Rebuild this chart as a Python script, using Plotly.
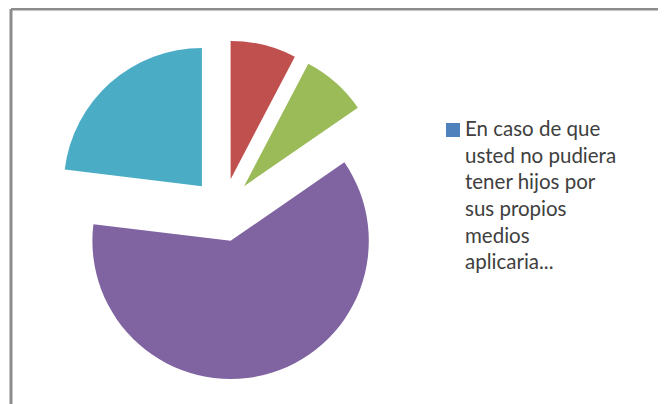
import plotly.graph_objects as go

# Slice data (Excel-style order, starting at 12 o'clock, clockwise)
labels = ["Opción 1", "Opción 2", "Opción 3", "Opción 4", "Opción 5"]
values = [0, 1, 1, 8, 3]
colors = ["#4F81BD", "#C0504D", "#9BBB59", "#8064A2", "#4BACC6"]

legend_name = "En caso de que<br>usted no pudiera<br>tener hijos por<br>sus propios<br>medios<br>aplicaria..."

# page body adds an 8px margin, so the figure is drawn 8px in from the window
OFF = 8
W, H = 666 - OFF, 404 - OFF


def px(x):
    return (x - OFF) / W


def py(y):
    return 1 - (y - OFF) / H


fig = go.Figure()

fig.add_trace(
    go.Pie(
        labels=labels,
        values=values,
        sort=False,
        direction="clockwise",
        rotation=0,
        pull=[0.23] * len(values),
        marker=dict(colors=colors, line=dict(width=0)),
        textinfo="none",
        hoverinfo="label+value+percent",
        showlegend=False,
        domain=dict(x=[px(53), px(393)], y=[py(380), py(40)]),
    )
)

# chart frame (only left and top edges visible in the crop)
fig.add_shape(type="line", xref="paper", yref="paper",
              x0=px(11), x1=px(11), y0=0, y1=py(9),
              line=dict(color="#8c8c8c", width=3))
fig.add_shape(type="line", xref="paper", yref="paper",
              x0=px(11), x1=1, y0=py(9), y1=py(9),
              line=dict(color="#8c8c8c", width=3))

# legend: marker + series name
fig.add_shape(type="rect", xref="paper", yref="paper",
              x0=px(446), x1=px(460), y0=py(137), y1=py(123),
              fillcolor="#4F81BD", line=dict(width=0))
fig.add_annotation(
    text=legend_name, xref="paper", yref="paper",
    x=px(463), y=py(114), xanchor="left", yanchor="top",
    align="left", showarrow=False,
    font=dict(family="Lato", size=20.5, color="#404040"),
)

fig.update_layout(
    width=W,
    height=H,
    margin=dict(l=0, r=0, t=0, b=0),
    paper_bgcolor="white",
    plot_bgcolor="white",
)

fig.write_html("out.html")
